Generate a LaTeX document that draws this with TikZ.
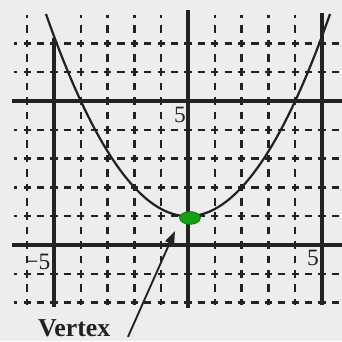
\documentclass[tikz,border=0pt]{standalone}
\usepackage{fontspec}
\setmainfont{Liberation Serif}
\usetikzlibrary{arrows.meta}
\definecolor{scanbg}{RGB}{237,237,237}
\definecolor{scanink}{RGB}{34,34,34}
\definecolor{markgreen}{RGB}{22,160,22}

\tikzset{
  gridh/.style={scanink, line width=2.1pt, dash pattern=on 0.22cm off 0.182cm, dash phase=0.11cm},
  gridv/.style={scanink, line width=2.1pt, dash pattern=on 0.23cm off 0.202cm, dash phase=0.115cm},
  axisline/.style={scanink, line width=2.9pt},
  ticklab/.style={font=\fontsize{20}{20}\selectfont, text=scanink, inner sep=0pt},
}

\begin{document}
\begin{tikzpicture}[x=0.804cm,y=0.864cm]
        \fill[scanbg] (-7.015,-3.333) rectangle (5.746,8.507);
        \useasboundingbox (-7.015,-3.333) rectangle (5.746,8.507);
        % dashed grid, one unit apart
        \foreach \y in {-2,-1,1,2,3,4,6,7}{\draw[gridh] (-6.5,\y) -- (5.75,\y);}
        \foreach \x in {-6,-4,-3,-2,-1,1,2,3,4}{\draw[gridv] (\x,8) -- (\x,-2.1);}
        % solid lines at multiples of 5
        \draw[axisline] (-5,7.2) -- (-5,-2.15);
        \draw[axisline] (5,8.05) -- (5,-2.1);
        \draw[axisline] (0,8.15) -- (0,-2.2);
        \draw[axisline] (-6.57,5) -- (5.75,5);
        \draw[axisline, line width=3.8pt] (-6.57,0) -- (5.75,0);
        % parabola y = x^2/4 + 1
        \draw[scanink, line width=1.9pt, domain=-5.3:5.3, samples=80] plot (\x,{\x*\x/4+1});
        \filldraw[markgreen!80!black, fill=markgreen, line width=0.8pt] (0.075,0.94) ellipse [x radius=0.31cm, y radius=0.19cm];
        % axis labels
        \node[ticklab] (yfive) at (-0.3,4.5) {5};
        \node[ticklab] (xminus) at (-5.6,-0.59) {−5};
        \node[ticklab] (xfive) at (4.66,-0.45) {5};
        % vertex label and arrow
        \node[font=\fontsize{22}{22}\selectfont\bfseries, text=scanink, anchor=base west, inner sep=0pt] (vertexlab) at (-5.6,-3.19) {Vertex};
        \coordinate (tail) at (-2.24,-3.19);
        \coordinate (tip) at (-0.485,0.486);
        \draw[scanink, line width=1.6pt, -{Triangle[length=4mm,width=2.8mm]}] (tail) -- (tip);
      \end{tikzpicture}
\end{document}
